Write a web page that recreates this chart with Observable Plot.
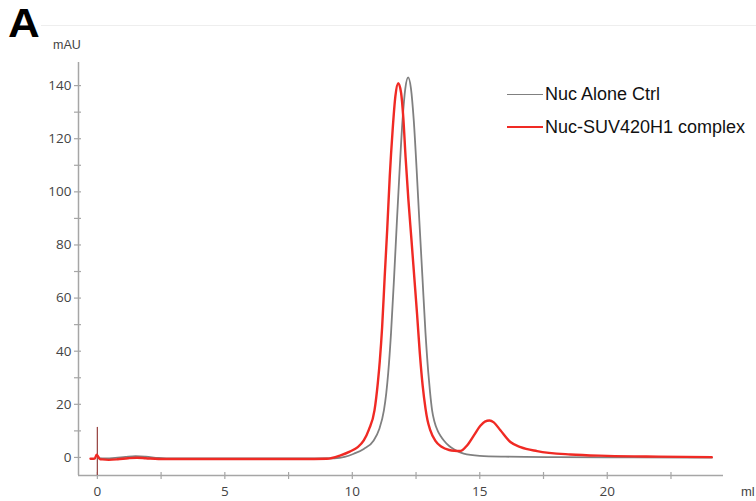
<!DOCTYPE html>
<html>
<head>
<meta charset="utf-8">
<script src="https://cdn.jsdelivr.net/npm/d3@7"></script>
<script src="https://cdn.jsdelivr.net/npm/@observablehq/plot@0.6"></script>
<style>
  html, body { margin: 0; padding: 0; background: #fff; }
  #wrap { position: relative; width: 756px; height: 501px; overflow: hidden; font-family: "Liberation Sans", Arial, sans-serif; }
  #chart { position: absolute; left: 0; top: 0; }
  .ov { position: absolute; white-space: nowrap; }
  #panel { left: 8px; top: 3px; font-size: 40px; font-weight: bold; color: #000; line-height: 1; transform: scaleX(1.1); transform-origin: left top; }
  #topline { position: absolute; left: 41px; right: 0; top: 25px; height: 0; border-top: 1px solid #eeeeee; }
  #unitY { left: 53px; top: 38px; font-size: 12.5px; color: #444; }
  #unitX { left: 741px; top: 484px; font-size: 13px; color: #444; }
  .leg { position: absolute; font-size: 18px; color: #111; line-height: 1; }
  .legline { position: absolute; height: 0; width: 36px; }
</style>
</head>
<body>
<div id="wrap">
  <div id="chart"></div>
  <div id="topline"></div>
  <div class="ov" id="panel">A</div>
  <div class="ov" id="unitY">mAU</div>
  <div class="ov" id="unitX">ml</div>
  <div id="legend"></div>
</div>
<script>
// ---- data ----
const seriesNames = ["Nuc Alone Ctrl", "Nuc-SUV420H1 complex"];
const seriesColors = ["#808080", "#f02a24"];

const greyX = [0.05, 0.3, 0.7, 1.1, 1.5, 1.9, 2.4, 3.0, 5.0, 8.0, 9.3, 9.7, 10.06, 10.45, 10.84, 11.05, 11.24, 11.33, 11.41, 11.52, 11.64, 11.75, 11.86, 11.97, 12.08, 12.19, 12.30, 12.41, 12.52, 12.63, 12.75, 12.87, 12.98, 13.05, 13.13, 13.22, 13.35, 13.47, 13.59, 13.8, 14.0, 14.37, 15.0, 16.0, 18.0, 21.0, 24.1];
const greyY = [-0.3, -0.4, -0.2, 0.2, 0.5, 0.3, -0.2, -0.4, -0.4, -0.4, -0.3, 0.2, 1.4, 3.2, 6.4, 10.5, 17.7, 24, 32, 47, 68, 89, 109, 127, 139, 143.1, 139, 127, 109, 89, 68, 47, 32, 24.5, 17.7, 13.5, 10.0, 8.0, 6.4, 4.3, 3.0, 1.4, 0.6, 0.3, 0.1, 0.0, -0.1];

const redX = [-0.27, -0.1, -0.03, 0.1, 0.2, 0.45, 0.8, 1.2, 1.55, 1.9, 2.4, 3.0, 5.0, 8.0, 9.0, 9.54, 9.9, 10.2, 10.45, 10.65, 10.87, 11.0, 11.08, 11.17, 11.27, 11.37, 11.47, 11.58, 11.69, 11.80, 11.91, 12.0, 12.09, 12.2, 12.32, 12.43, 12.54, 12.65, 12.76, 12.87, 12.95, 13.05, 13.26, 13.5, 13.8, 14.0, 14.24, 14.5, 14.77, 15.03, 15.2, 15.38, 15.55, 15.81, 16.2, 16.6, 17.25, 18.56, 20.0, 22.0, 24.1];
const redY = [-0.5, -0.4, 1.0, -0.6, -0.75, -0.9, -0.7, -0.3, -0.1, -0.3, -0.6, -0.6, -0.6, -0.6, -0.5, 0.8, 2.2, 3.8, 6.4, 10.5, 17.7, 28, 36.5, 49, 68, 86, 106, 123, 136, 140.9, 137.5, 128, 113, 97, 82, 68, 54, 39, 27, 18.5, 14, 10.5, 6.2, 4.0, 2.8, 2.5, 2.4, 4.5, 8.3, 12.0, 13.5, 13.9, 13.2, 10.2, 5.8, 3.9, 2.4, 1.1, 0.6, 0.3, 0.1];

const injectionMarker = [{ml: 0, from: -6.8, to: 11.3}];

const yMajorTicks = [0, 20, 40, 60, 80, 100, 120, 140];
const yMinorTicks = [10, 30, 50, 70, 90, 110, 130];
const xTicks = [0, 2.5, 5, 7.5, 10, 12.5, 15, 17.5, 20, 22.5];
const xLabels = [0, 5, 10, 15, 20];

const xDomain = [-0.74, 24.56];
const yDomain = [-6.8, 148.7];

// ---- build tables ----
const grey = greyX.map((x, i) => ({ml: x, mAU: greyY[i], series: seriesNames[0]}));
const red = redX.map((x, i) => ({ml: x, mAU: redY[i], series: seriesNames[1]}));

const W = 756, H = 501, ML = 78, MR = 33, MT = 62, MB = 26;
const frameW = W - ML - MR, frameH = H - MT - MB;

const axisColor = "#a6a6a6";
const tickFont = "'Open Sans', 'Liberation Sans', sans-serif";

const chart = Plot.plot({
  width: W,
  height: H,
  marginLeft: ML,
  marginRight: MR,
  marginTop: MT,
  marginBottom: MB,
  style: {background: "transparent", fontFamily: tickFont, fontSize: "13.5px", color: "#444"},
  x: {domain: xDomain, axis: null},
  y: {domain: yDomain, axis: null},
  marks: [
    // axis lines
    Plot.ruleX([xDomain[0]], {stroke: axisColor, strokeWidth: 1.5}),
    Plot.ruleY([yDomain[0]], {stroke: axisColor, strokeWidth: 1.5}),
    // y ticks crossing the axis line
    Plot.tickY(yMajorTicks.concat(yMinorTicks), {y: d => d, stroke: axisColor, strokeWidth: 1.2, insetLeft: -4, insetRight: frameW - 3}),
    Plot.text(yMajorTicks, {x: () => xDomain[0], y: d => d, text: d => String(d), textAnchor: "end", dx: -7, fill: "#444", fontSize: 13.5}),
    // x ticks crossing the axis line
    Plot.tickX(xTicks, {x: d => d, stroke: axisColor, strokeWidth: 1.2, insetTop: frameH - 3, insetBottom: -4}),
    Plot.text(xLabels, {x: d => d, y: () => yDomain[0], text: d => String(d), dy: 16, fill: "#444", fontSize: 13.5}),
    // injection marker
    Plot.ruleX(injectionMarker, {x: "ml", y1: "from", y2: "to", stroke: "#9b4a48", strokeWidth: 1.3}),
    // curves
    Plot.line(grey, {x: "ml", y: "mAU", stroke: seriesColors[0], strokeWidth: 1.8, curve: "monotone-x"}),
    Plot.line(red, {x: "ml", y: "mAU", stroke: seriesColors[1], strokeWidth: 2.4, curve: "monotone-x"})
  ]
});
document.getElementById("chart").appendChild(chart);

// legend
const legend = document.getElementById("legend");
const legendTops = [94, 127];
seriesNames.forEach((name, i) => {
  const line = document.createElement("div");
  line.className = "legline";
  line.style.left = "507px";
  line.style.top = (legendTops[i] - (i ? 1 : 0.5)) + "px";
  line.style.borderTop = (i ? 2 : 1.5) + "px solid " + seriesColors[i];
  legend.appendChild(line);
  const t = document.createElement("div");
  t.className = "leg";
  t.style.left = "545px";
  t.style.top = (legendTops[i] - 9.5) + "px";
  t.textContent = name;
  legend.appendChild(t);
});
</script>
</body>
</html>
